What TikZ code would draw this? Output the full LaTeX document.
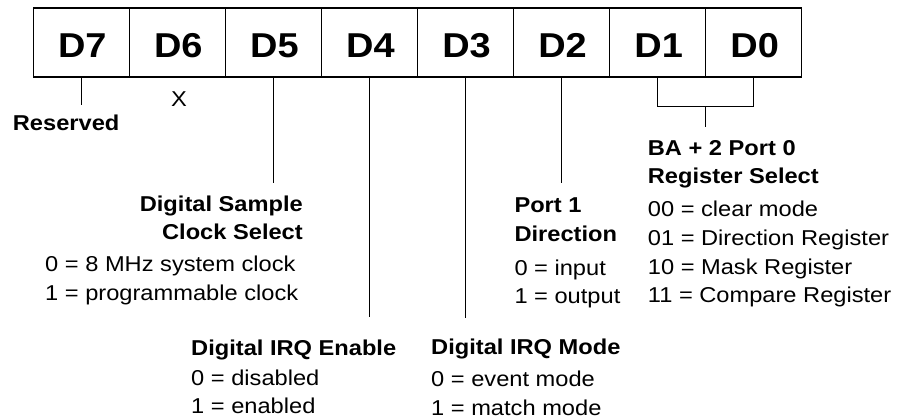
\documentclass[tikz,border=0pt]{standalone}
\usepackage{fontspec}
\setmainfont{Liberation Sans}[FakeStretch=1.1]
\begin{document}
\begin{tikzpicture}[x=1pt,y=-1pt,
  cell/.style={draw,line width=1.5pt,minimum width=96.06pt,inner sep=0pt,
    text height=49.5pt,text depth=19pt,font=\fontsize{34.5}{40}\selectfont\bfseries},
  conn/.style={line width=1.1pt},
  hd/.style={inner sep=0pt,font=\fontsize{21.5}{25}\selectfont\bfseries},
  tx/.style={inner sep=0pt,font=\fontsize{21.5}{25}\selectfont}]
\useasboundingbox (0,0) rectangle (899,420);
% register cells
\foreach \n [count=\i from 0] in {7,6,5,4,3,2,1,0}
  \node[cell,anchor=north west] (d\n) at ({32.5+96.06*\i},7.5) {\hspace{2pt}D\n};
% connector ends
\coordinate (e7) at (d7.south |- 0,105);
\coordinate (e5) at (d5.south |- 0,183);
\coordinate (e4) at (d4.south |- 0,316.7);
\coordinate (e3) at (d3.south |- 0,318);
\coordinate (e2) at (d2.south |- 0,183);
\coordinate (bj) at (705.2,106.7);
\coordinate (be) at (705.2,126.7);
\draw[conn] (d7.south) -- (e7);
\draw[conn] (d5.south) -- (e5);
\draw[conn] (d4.south) -- (e4);
\draw[conn] (d3.south) -- (e3);
\draw[conn] (d2.south) -- (e2);
\draw[conn] (d1.south) |- (bj) -| (d0.south);
\draw[conn] (bj) -- (be);
% labels
\node[hd,anchor=base west] (res) at (12.7,130) {Reserved};
\node[tx,anchor=base] (x6) at (179,106) {X};
\node[hd,anchor=base east] (s1) at (303,211.7) {Digital Sample};
\node[hd,anchor=base east] (s2) at (303,239) {Clock Select};
\node[tx,anchor=base west] (s3) at (45,271.7) {0 = 8 MHz system clock};
\node[tx,anchor=base west] (s4) at (45,300) {1 = programmable clock};
\node[hd,anchor=base west] (i1) at (191,355) {Digital IRQ Enable};
\node[tx,anchor=base west] (i2) at (191,385) {0 = disabled};
\node[tx,anchor=base west] (i3) at (191,413.3) {1 = enabled};
\node[hd,anchor=base west] (m1) at (431,354) {Digital IRQ Mode};
\node[tx,anchor=base west] (m2) at (431,386.7) {0 = event mode};
\node[tx,anchor=base west] (m3) at (431,415) {1 = match mode};
\node[hd,anchor=base west] (p1) at (514.3,212.7) {Port 1};
\node[hd,anchor=base west] (p2) at (514.3,241) {Direction};
\node[tx,anchor=base west] (p3) at (514.3,275) {0 = input};
\node[tx,anchor=base west] (p4) at (514.3,303) {1 = output};
\node[hd,anchor=base west] (b1) at (647.7,155) {BA + 2 Port 0};
\node[hd,anchor=base west] (b2) at (647.7,183.3) {Register Select};
\node[tx,anchor=base west] (b3) at (647.7,216.7) {00 = clear mode};
\node[tx,anchor=base west] (b4) at (647.7,245) {01 = Direction Register};
\node[tx,anchor=base west] (b5) at (647.7,274) {10 = Mask Register};
\node[tx,anchor=base west] (b6) at (647.7,302.7) {11 = Compare Register};
\end{tikzpicture}
\end{document}
